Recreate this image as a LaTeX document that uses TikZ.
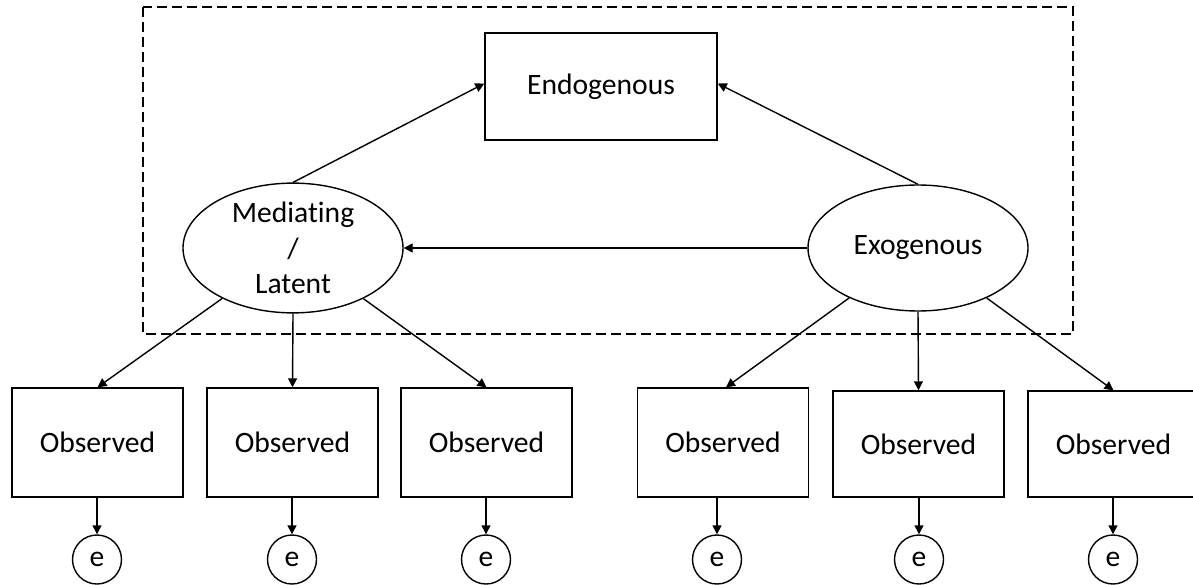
\documentclass[tikz,border=0pt]{standalone}
\usepackage{fontspec}
\setmainfont{Carlito}[Ligatures=NoCommon]
\usetikzlibrary{arrows.meta,shapes.geometric}
\begin{document}
\begin{tikzpicture}[x=1pt,y=-1pt,
  every node/.style={font=\fontsize{29.6}{35.5}\selectfont},
  link/.style={line width=1.4pt, -{Triangle[length=9pt,width=9pt]}},
  obsbox/.style={draw, line width=1.4pt, rectangle, minimum width=171pt, minimum height=109pt, inner sep=0pt},
  obsboxlow/.style={obsbox, minimum height=106pt},
  latent/.style={draw, line width=1.4pt, ellipse, minimum width=220pt, minimum height=126pt, inner sep=0pt, align=center},
  errnode/.style={draw, line width=1.4pt, circle, minimum size=49pt, inner sep=0pt},
  groupframe/.style={draw, line width=1.3pt, dash pattern=on 10pt off 5pt}
]
\clip (0,0) rectangle (1193,585);

% structural part
\draw[groupframe] (143,7) rectangle (1073,334);

\node[draw, line width=1.4pt, rectangle, minimum width=232pt, minimum height=107pt, inner sep=0pt] (endo) at (601,86.5) {Endogenous};
\node[latent] (med) at (293,248) {Mediating\\/\\Latent};
\node[latent] (exo) at (918,248) {Exogenous};

% indicators
\node[obsbox] (o1) at (97.5,442.5) {Observed};
\node[obsbox] (o2) at (292.5,442.5) {Observed};
\node[obsbox] (o3) at (486.5,442.5) {Observed};
\node[obsbox] (o4) at (723,442.5) {Observed};
\node[obsboxlow] (o5) at (918.5,444) {Observed};
\node[obsboxlow] (o6) at (1113.5,444) {Observed};

% error terms
\node[errnode] (e1) at (97,559.5) {e};
\node[errnode] (e2) at (292,559.5) {e};
\node[errnode] (e3) at (486,559.5) {e};
\node[errnode] (e4) at (717,559.5) {e};
\node[errnode] (e5) at (919,559.5) {e};
\node[errnode] (e6) at (1113,559.5) {e};

% paths
\coordinate (endoL) at ([yshift=3pt]endo.west);
\coordinate (endoR) at ([yshift=3pt]endo.east);
\draw[link] (med.north) -- (endoL);
\draw[link] (exo.north) -- (endoR);
\draw[link] (exo.west) -- (med.east);

\draw[link] (med) -- (o1.north);
\draw[link] (med.south) -- (o2.north);
\draw[link] (med) -- (o3.north);
\draw[link] (exo) -- ([xshift=3pt]o4.north);
\draw[link] (exo.south) -- (o5.north);
\draw[link] (exo) -- (o6.north);

\foreach \i in {1,...,6}{
  \draw[link] (o\i.south -| e\i.north) -- (e\i.north);
}
\end{tikzpicture}
\end{document}
